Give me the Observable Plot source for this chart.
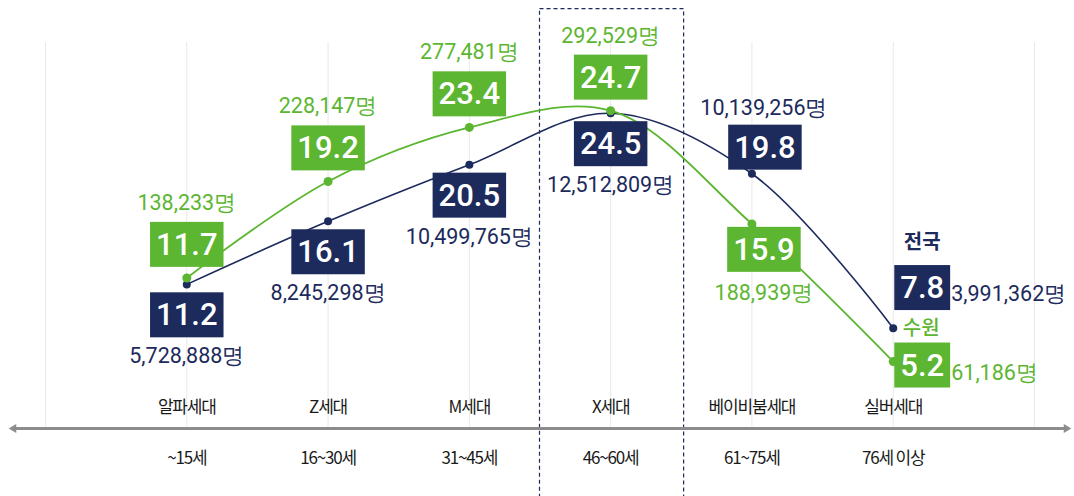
<!DOCTYPE html>
<html>
<head>
<meta charset="utf-8">
<script src="https://cdn.jsdelivr.net/npm/d3@7"></script>
<script src="https://cdn.jsdelivr.net/npm/@observablehq/plot@0.6"></script>
<style>
  html, body { margin: 0; padding: 0; background: #fff; }
  #chart { width: 1074px; height: 496px; overflow: hidden; }
  g.cat-label text { letter-spacing: -1.2px; }
</style>
</head>
<body>
<div id="chart"></div>
<script>
// ---- data ----
const generations = ["알파세대", "Z세대", "M세대", "X세대", "베이비붐세대", "실버세대"];
const ageRanges = ["~15세", "16~30세", "31~45세", "46~60세", "61~75세", "76세 이상"];
const seriesNames = ["전국", "수원"];
const nationalPct = [11.2, 16.1, 20.5, 24.5, 19.8, 7.8];
const nationalCount = [5728888, 8245298, 10499765, 12512809, 10139256, 3991362];
const suwonPct = [11.7, 19.2, 23.4, 24.7, 15.9, 5.2];
const suwonCount = [138233, 228147, 277481, 292529, 188939, 61186];
const highlightGeneration = "X세대";

// ---- styling ----
const NAVY = "#1c2a5c";
const GREEN = "#5cb631";
const NUM_FONT = "Roboto, 'Noto Sans', sans-serif";
const KR_FONT = "'Noto Sans CJK KR', 'Noto Sans', sans-serif";

const fmt = n => d3.format(",")(n) + "명";
const nat = generations.map((g, k) => ({k, x: k + 1, g, age: ageRanges[k], v: nationalPct[k], n: nationalCount[k]}));
const suw = generations.map((g, k) => ({k, x: k + 1, g, age: ageRanges[k], v: suwonPct[k], n: suwonCount[k]}));
const last = generations.length - 1;
const hi = generations.indexOf(highlightGeneration) + 1;
const xMax = generations.length + 1;

const inMain = d => d.k < last - 1;
const isBoom = d => d.k === last - 1;
const isLast = d => d.k === last;

const boxText = (data, opts) => Plot.text(data, {
  x: "x", y: "v", text: d => d3.format(".1f")(d.v),
  fill: "white", fontSize: 31, fontWeight: 500, fontFamily: NUM_FONT,
  lineAnchor: "middle", ...opts
});
const countText = (data, color, opts) => Plot.text(data, {
  x: "x", y: "v", text: d => fmt(d.n),
  fill: color, fontSize: 21.5, fontFamily: NUM_FONT, lineAnchor: "middle", ...opts
});

const chart = Plot.plot({
  width: 1074,
  height: 496,
  marginLeft: 45,
  marginRight: 40,
  marginTop: 42,
  marginBottom: 68,
  x: {domain: [0, xMax], axis: null},
  y: {domain: [0, 30], axis: null},
  style: {fontFamily: KR_FONT, background: "white", overflow: "hidden"},
  marks: [
    // vertical grid
    Plot.ruleX(d3.range(0, xMax + 1), {y1: 0, y2: 30, stroke: "#e9e9e9", strokeWidth: 1}),
    // highlight box around X세대
    Plot.rect([hi], {x1: d => d - 0.5, x2: d => d + 0.52, y1: -5.4, y2: 32.6,
      stroke: NAVY, strokeWidth: 1.2, strokeDasharray: "4,3", fill: "none"}),
    // horizontal axis with arrow heads
    Plot.ruleY([0], {x1: -0.23, x2: xMax + 0.23, stroke: "#8c8c8c", strokeWidth: 3}),
    Plot.dot([{x: -0.225, r: -90}, {x: xMax + 0.225, r: 90}], {x: "x", y: 0, symbol: "triangle2",
      rotate: "r", r: 4.2, fill: "#8c8c8c"}),
    // lines
    Plot.line(nat, {x: "x", y: "v", curve: "catmull-rom", stroke: NAVY, strokeWidth: 1.6}),
    Plot.line(suw, {x: "x", y: "v", curve: "catmull-rom", stroke: GREEN, strokeWidth: 1.8}),
    Plot.dot(nat, {x: "x", y: "v", r: 4, fill: NAVY}),
    Plot.dot(suw, {x: "x", y: "v", r: 4.5, fill: GREEN}),
    // national value boxes
    boxText(nat, {filter: inMain, dy: 31, className: "box-nat"}),
    boxText(nat, {filter: isBoom, dx: 13, dy: -26, className: "box-nat"}),
    boxText(nat, {filter: isLast, dx: 29, dy: -40, className: "box-nat"}),
    // suwon value boxes
    boxText(suw, {filter: inMain, dy: -33, className: "box-suw"}),
    boxText(suw, {filter: isBoom, dx: 12, dy: 26, className: "box-suw"}),
    boxText(suw, {filter: isLast, dx: 29, dy: 4, className: "box-suw"}),
    // national counts
    countText(nat, NAVY, {filter: inMain, dy: 72}),
    countText(nat, NAVY, {filter: isBoom, dx: 12, dy: -66}),
    countText(nat, NAVY, {filter: isLast, dx: 58, dy: -34, textAnchor: "start"}),
    // suwon counts
    countText(suw, GREEN, {filter: inMain, dy: -75}),
    countText(suw, GREEN, {filter: isBoom, dx: 12, dy: 69}),
    countText(suw, GREEN, {filter: isLast, dx: 58, dy: 12, textAnchor: "start"}),
    // series names
    Plot.text(nat, {filter: isLast, x: "x", y: "v", text: () => seriesNames[0], dx: 29, dy: -86,
      fill: NAVY, fontSize: 20, fontWeight: 600, lineAnchor: "middle", fontFamily: KR_FONT}),
    Plot.text(suw, {filter: isLast, x: "x", y: "v", text: () => seriesNames[1], dx: 28, dy: -33,
      fill: GREEN, fontSize: 20, fontWeight: 500, lineAnchor: "middle", fontFamily: KR_FONT}),
    // category labels
    Plot.text(nat, {x: "x", y: 0, text: "g", dy: -21, fill: "#1a1a1a", fontSize: 17,
      lineAnchor: "middle", fontFamily: KR_FONT, className: "cat-label"}),
    Plot.text(nat, {x: "x", y: 0, text: "age", dy: 30, fill: "#1a1a1a", fontSize: 17,
      lineAnchor: "middle", fontFamily: KR_FONT, className: "cat-label"})
  ]
});

document.getElementById("chart").appendChild(chart);

// draw filled boxes behind the value labels
function addBoxes(cls, color) {
  chart.querySelectorAll("g." + cls + " text").forEach(t => {
    const bb = t.getBBox();
    const cy = bb.y + bb.height / 2;
    const r = document.createElementNS("http://www.w3.org/2000/svg", "rect");
    const padX = 6, h = 45;
    r.setAttribute("x", bb.x - padX);
    r.setAttribute("y", cy - h / 2);
    r.setAttribute("width", bb.width + 2 * padX);
    r.setAttribute("height", h);
    r.setAttribute("fill", color);
    const tr = t.getAttribute("transform");
    if (tr) r.setAttribute("transform", tr);
    t.parentNode.insertBefore(r, t);
  });
}
addBoxes("box-nat", NAVY);
addBoxes("box-suw", GREEN);
</script>
</body>
</html>
